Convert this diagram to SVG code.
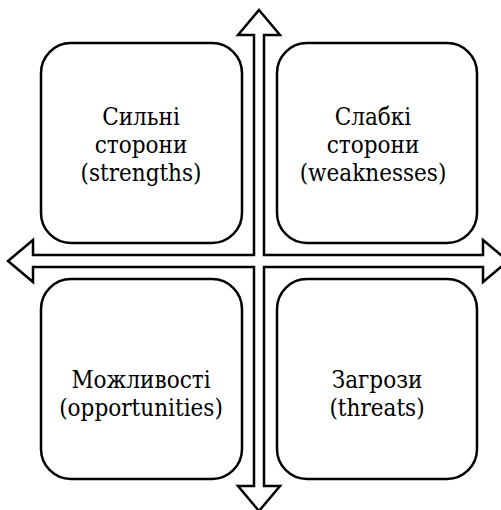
<svg xmlns="http://www.w3.org/2000/svg" width="501" height="510" viewBox="0 0 501 510">
  <style>
    .box { fill: #ffffff; stroke: #000000; stroke-width: 2.5; }
    .axis { fill: #ffffff; stroke: #000000; stroke-width: 2.5; stroke-linejoin: miter; }
    text { font-family: "DejaVu Serif Condensed", "DejaVu Serif", "Liberation Serif", serif; font-stretch: condensed; font-size: 24px; fill: #000000; text-anchor: middle; }
  </style>
  <rect width="501" height="510" fill="#ffffff"/>

  <!-- four-way axis arrow -->
  <g id="connectors">
    <polygon class="axis" points="259,10 280,35 264,35 264,255 483,255 483,240 508,261 483,282 483,267 264,267 264,486 280,486 259,511 238,486 254,486 254,267 33,267 33,282 8,261 33,240 33,255 254,255 254,35 238,35"/>
  </g>

  <g id="strengths">
    <rect class="box" x="41" y="43" width="201" height="200" rx="30" ry="30"/>
    <text x="141" y="125">Сильні</text>
    <text x="141" y="153">сторони</text>
    <text x="141" y="181">(strengths)</text>
  </g>

  <g id="weaknesses">
    <rect class="box" x="277" y="43" width="200" height="200" rx="30" ry="30"/>
    <text x="373" y="125">Слабкі</text>
    <text x="373" y="153">сторони</text>
    <text x="373" y="181">(weaknesses)</text>
  </g>

  <g id="opportunities">
    <rect class="box" x="41" y="279" width="201" height="200" rx="30" ry="30"/>
    <text x="141" y="388">Можливості</text>
    <text x="141" y="416">(opportunities)</text>
  </g>

  <g id="threats">
    <rect class="box" x="277" y="279" width="200" height="200" rx="30" ry="30"/>
    <text x="377" y="388">Загрози</text>
    <text x="377" y="416">(threats)</text>
  </g>
</svg>
